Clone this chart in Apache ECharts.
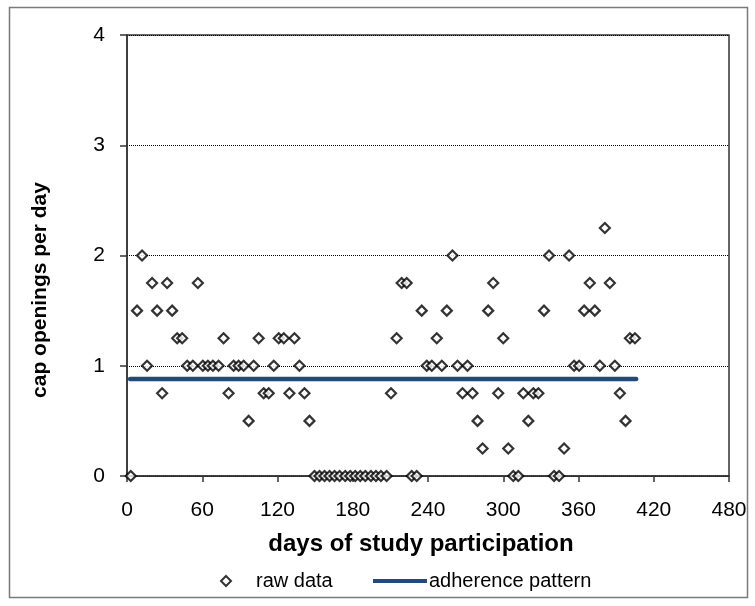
<!DOCTYPE html>
<html>
<head>
<meta charset="utf-8">
<script src="https://cdn.jsdelivr.net/npm/echarts@6/dist/echarts.min.js"></script>
<style>
  html, body { margin: 0; padding: 0; background: #fff; }
  #chart { width: 755px; height: 606px; }
</style>
</head>
<body>
<div id="chart"></div>
<script>
// raw data: day of study vs cap openings per day
const rawDays = [
  3, 8, 12, 16, 20, 24, 28, 32, 36, 40, 44, 48, 52.5, 56.5, 60.5, 64.5, 68.5, 73, 77, 81,
  85, 89, 93, 97, 101, 105, 109, 113, 117, 121, 125, 129.5, 133.5, 137.5, 141.5, 145.5,
  149.5, 153.5, 157.5, 161.5, 165.5, 169.5, 174, 178, 182, 186, 190, 194.5, 198.5, 202.5, 207,
  210.5, 215, 219, 223, 227, 231, 235, 239, 243, 247, 251, 255, 259.5, 263.5, 267.5, 271.5,
  275.5, 279.5, 283.5, 288, 292, 296, 300, 304, 308, 312, 316, 320, 324, 328, 332.5, 336.5,
  340.5, 344.5, 348.5, 352.5, 356.5, 360.5, 364.5, 369, 373, 377, 381, 385, 389, 393, 397.5,
  401, 405
];
const rawValues = [
  0, 1.5, 2, 1, 1.75, 1.5, 0.75, 1.75, 1.5, 1.25, 1.25, 1, 1, 1.75, 1, 1, 1, 1, 1.25, 0.75,
  1, 1, 1, 0.5, 1, 1.25, 0.75, 0.75, 1, 1.25, 1.25, 0.75, 1.25, 1, 0.75, 0.5,
  0, 0, 0, 0, 0, 0, 0, 0, 0, 0, 0, 0, 0, 0, 0,
  0.75, 1.25, 1.75, 1.75, 0, 0, 1.5, 1, 1, 1.25, 1, 1.5, 2, 1, 0.75, 1,
  0.75, 0.5, 0.25, 1.5, 1.75, 0.75, 1.25, 0.25, 0, 0, 0.75, 0.5, 0.75, 0.75, 1.5, 2,
  0, 0, 0.25, 2, 1, 1, 1.5, 1.75, 1.5, 1, 2.25, 1.75, 1, 0.75, 0.5,
  1.25, 1.25
];
// adherence pattern (flat line)
const patternDays = [2.5, 406];
const patternValues = [0.88, 0.88];

const xTicks = [0, 60, 120, 180, 240, 300, 360, 420, 480];
const yTicks = [0, 1, 2, 3, 4];

const FONT = '"Liberation Sans", Arial, sans-serif';
const BLUE = '#22497a';

const chart = echarts.init(document.getElementById('chart'), null, { renderer: 'canvas' });

chart.setOption({
  animation: false,
  backgroundColor: '#fff',
  grid: {
    left: 127, right: 26, top: 35, bottom: 130,
    show: true, borderColor: '#333', borderWidth: 1.5, backgroundColor: 'transparent'
  },
  xAxis: {
    type: 'value',
    min: xTicks[0], max: xTicks[xTicks.length - 1], interval: 60,
    axisLine: { show: true, onZero: false, lineStyle: { color: '#333', width: 1.5 } },
    axisTick: { show: true, length: 6, lineStyle: { color: '#333', width: 1.5 } },
    axisLabel: { margin: 24, color: '#000', fontSize: 21, fontFamily: FONT },
    splitLine: { show: false }
  },
  yAxis: {
    type: 'value',
    min: yTicks[0], max: yTicks[yTicks.length - 1], interval: 1,
    axisLine: { show: true, lineStyle: { color: '#333', width: 1.5 } },
    axisTick: { show: true, length: 7, lineStyle: { color: '#333', width: 1.5 } },
    axisLabel: { margin: 22, color: '#000', fontSize: 21, fontFamily: FONT },
    splitLine: { show: true, lineStyle: { color: '#000', type: 'dotted', width: 1 } }
  },
  legend: [
    {
      data: ['raw data'],
      left: 215, top: 566,
      itemWidth: 10, itemHeight: 10,
      textStyle: { color: '#000', fontSize: 20, fontFamily: FONT, padding: [0, 0, 0, 20] }
    },
    {
      data: [{ name: 'adherence pattern', icon: 'rect' }],
      left: 368, top: 566,
      itemWidth: 54, itemHeight: 4,
      textStyle: { color: '#000', fontSize: 20, fontFamily: FONT, padding: [0, 0, 0, -3] }
    }
  ],
  graphic: [
    {
      type: 'rect', silent: true, z: -10,
      shape: { x: 9.5, y: 7.5, width: 738, height: 590 },
      style: { fill: 'none', stroke: '#7a7a7a', lineWidth: 1.5 }
    },
    {
      type: 'text', x: 421, y: 544,
      style: {
        text: 'days of study participation', fill: '#000',
        font: 'bold 24px ' + FONT, textAlign: 'center', textVerticalAlign: 'middle'
      }
    },
    {
      type: 'text', x: 40, y: 290, rotation: Math.PI / 2,
      style: {
        text: 'cap openings per day', fill: '#000',
        font: 'bold 21px ' + FONT, textAlign: 'center', textVerticalAlign: 'middle'
      }
    }
  ],
  series: [
    {
      name: 'raw data',
      type: 'scatter',
      symbol: 'diamond',
      symbolSize: 10,
      itemStyle: { color: '#fff', borderColor: '#000', borderWidth: 2.2 },
      data: rawDays.map((d, i) => [d, rawValues[i]]),
      z: 5
    },
    {
      name: 'adherence pattern',
      type: 'line',
      symbol: 'none',
      lineStyle: { color: BLUE, width: 4.5, cap: 'round' },
      itemStyle: { color: BLUE },
      data: patternDays.map((d, i) => [d, patternValues[i]]),
      z: 3
    }
  ]
});
</script>
</body>
</html>
